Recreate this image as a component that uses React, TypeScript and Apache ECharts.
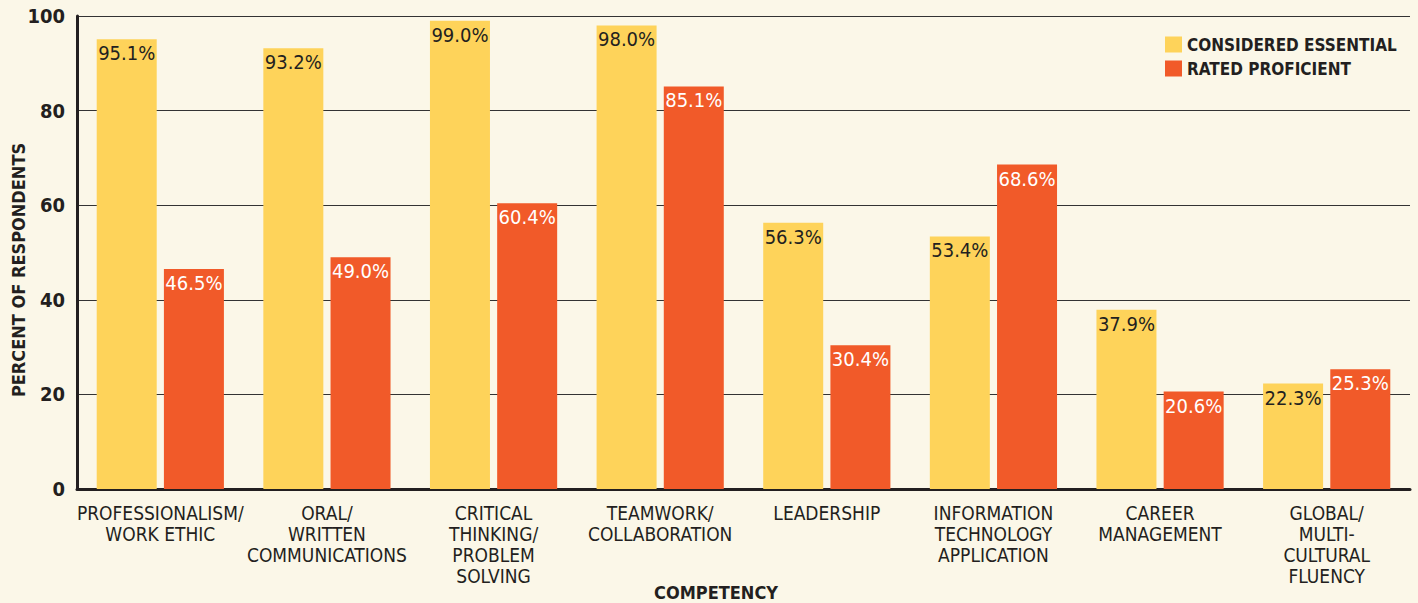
import React, { useEffect, useRef } from "react";
import * as echarts from "echarts";

const categories = [
  "PROFESSIONALISM/\nWORK ETHIC",
  "ORAL/\nWRITTEN\nCOMMUNICATIONS",
  "CRITICAL\nTHINKING/\nPROBLEM\nSOLVING",
  "TEAMWORK/\nCOLLABORATION",
  "LEADERSHIP",
  "INFORMATION\nTECHNOLOGY\nAPPLICATION",
  "CAREER\nMANAGEMENT",
  "GLOBAL/\nMULTI-\nCULTURAL\nFLUENCY",
];
const essential = [95.1, 93.2, 99.0, 98.0, 56.3, 53.4, 37.9, 22.3];
const proficient = [46.5, 49.0, 60.4, 85.1, 30.4, 68.6, 20.6, 25.3];
const yTicks = [0, 20, 40, 60, 80, 100];

const FONT = '"Liberation Sans Narrow", "DejaVu Sans Condensed", "Roboto", sans-serif';
const DARK = "#231f20";

export default function App() {
  const ref = useRef<HTMLDivElement>(null);
  useEffect(() => {
    document.body.style.margin = "0";
    const chart = echarts.init(ref.current!, undefined, { renderer: "svg" });
    chart.setOption({
      animation: false,
      backgroundColor: "#fbf7e8",
      textStyle: { fontFamily: FONT },
      legend: {
        left: 1160,
        top: 31,
        orient: "vertical",
        itemWidth: 17,
        itemHeight: 16,
        itemGap: 7,
        icon: "rect",
        textStyle: { fontFamily: FONT, fontWeight: "bold", fontSize: 17, color: DARK },
        data: ["CONSIDERED ESSENTIAL", "RATED PROFICIENT"],
      },
      grid: { left: 77, right: 8, top: 16, bottom: 114, outerBoundsMode: "none", containLabel: false },
      graphic: [
        {
          type: "text",
          x: 716,
          y: 592,
          style: {
            text: "COMPETENCY",
            fontFamily: FONT,
            fontWeight: "bold",
            fontSize: 18,
            fill: DARK,
            align: "center",
            verticalAlign: "middle",
          },
        },
        {
          type: "text",
          x: 18,
          y: 270,
          rotation: Math.PI / 2,
          style: {
            text: "PERCENT OF RESPONDENTS",
            fontFamily: FONT,
            fontWeight: "bold",
            fontSize: 18,
            fill: DARK,
            align: "center",
            verticalAlign: "middle",
          },
        },
      ],
      xAxis: {
        type: "category",
        data: categories,
        axisLine: { show: true, lineStyle: { color: DARK, width: 3 } },
        axisTick: { show: false },
        axisLabel: {
          interval: 0,
          fontFamily: FONT,
          fontSize: 19,
          lineHeight: 21,
          color: DARK,
          margin: 13,
          verticalAlign: "top",
        },
      },
      yAxis: {
        type: "value",
        min: yTicks[0],
        max: yTicks[yTicks.length - 1],
        interval: 20,
        axisLine: { show: true, lineStyle: { color: DARK, width: 3 } },
        axisTick: { show: false },
        axisLabel: {
          fontFamily: FONT,
          fontWeight: "bold",
          fontSize: 20,
          color: DARK,
          margin: 12,
        },
        splitLine: { show: true, lineStyle: { color: "#333333", width: 1 } },
      },
      series: [
        {
          name: "CONSIDERED ESSENTIAL",
          type: "bar",
          data: essential,
          barWidth: 60,
          barGap: "12%",
          itemStyle: { color: "#fed35a" },
          label: {
            show: true,
            position: "insideTop",
            distance: 4,
            formatter: (p: any) => p.value.toFixed(1) + "%",
            fontFamily: FONT,
            fontSize: 20,
            color: DARK,
          },
        },
        {
          name: "RATED PROFICIENT",
          type: "bar",
          data: proficient,
          barWidth: 60,
          itemStyle: { color: "#f15a29" },
          label: {
            show: true,
            position: "insideTop",
            distance: 4,
            formatter: (p: any) => p.value.toFixed(1) + "%",
            fontFamily: FONT,
            fontSize: 20,
            color: "#ffffff",
          },
        },
      ],
    });
    return () => chart.dispose();
  }, []);
  return (
    <div
      ref={ref}
      style={{ position: "absolute", left: 0, top: 0, width: 1418, height: 603 }}
    />
  );
}
